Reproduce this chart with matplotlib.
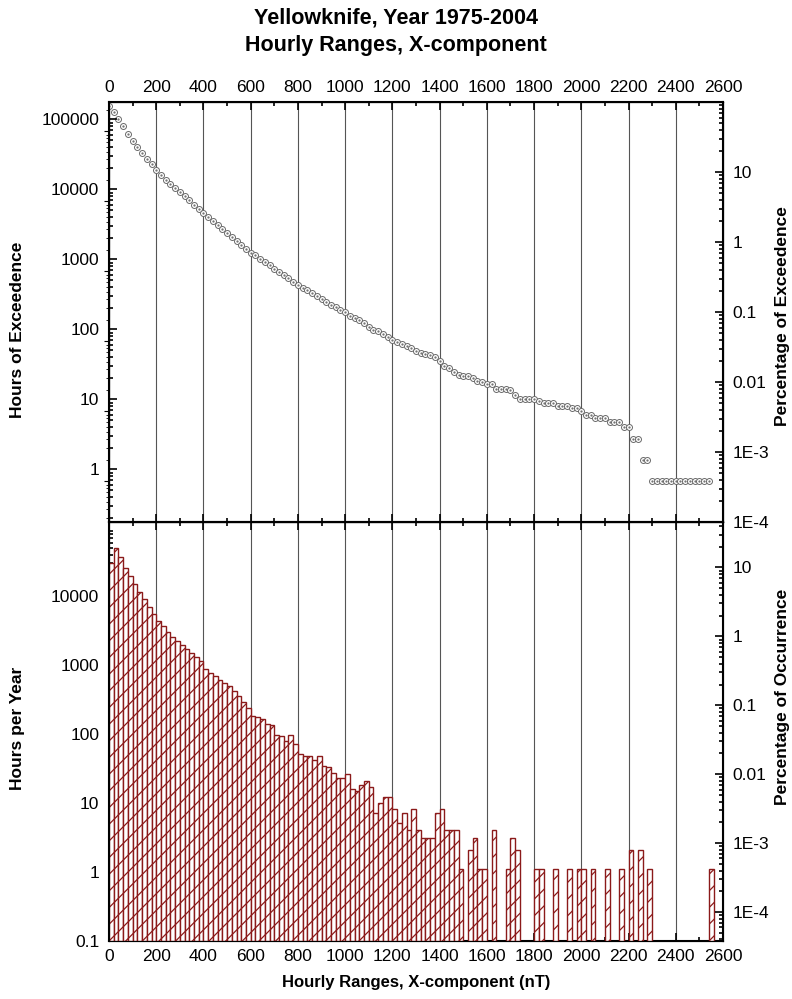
import numpy as np
import matplotlib.pyplot as plt
from matplotlib.ticker import LogLocator, NullFormatter, MultipleLocator

plt.rcParams['font.family'] = ['Liberation Sans', 'DejaVu Sans']
plt.rcParams['hatch.linewidth'] = 0.9

# 30 years of hourly values, used to scale the percentage axes
TOTAL_HOURS = 262980

# lower edge of each 20 nT bin
bin_start = np.arange(0, 2560, 20)

# hours in each 20 nT bin (bottom panel)
hours_in_bin = [
    30000, 50500, 37100, 26100, 19600, 15000, 11700, 9060, 6950, 5580,
    4420, 3670, 3010, 2550, 2230, 1940, 1700, 1490, 1320, 1150,
    896, 785, 688, 615, 552, 494, 428, 363, 298, 239,
    183, 177, 164, 142, 138, 97, 95, 79, 97, 73,
    52, 49, 49, 42, 49, 34, 33, 27, 23, 23,
    26, 16, 15, 18, 21, 17, 7, 10, 12, 12,
    8, 5, 7, 4, 8, 4, 3, 3, 3, 7,
    8, 4, 4, 4, 1, 0, 2, 3, 1, 1,
    0, 4, 0, 0, 1, 3, 2, 0, 0, 0,
    1, 1, 0, 0, 1, 0, 0, 1, 0, 1,
    1, 0, 1, 0, 0, 1, 0, 0, 1, 0,
    2, 0, 2, 0, 1, 0, 0, 0, 0, 0,
    0, 0, 0, 0, 0, 0, 0, 1,
]

# hours with a range at or above each threshold (top panel)
hours_exceeded = [
    230000, 190000, 150000, 118000, 93000, 74000, 60000, 49000, 40500, 33800,
    28300, 24000, 20500, 17800, 15500, 13500, 11800, 10300, 9000, 7800,
    6800, 6000, 5250, 4600, 4050, 3550, 3100, 2720, 2370, 2090,
    1860, 1690, 1520, 1361, 1219, 1081, 984, 889, 810, 713,
    640, 588, 539, 490, 448, 399, 365, 332, 305, 282,
    259, 233, 217, 202, 184, 163, 146, 139, 129, 117,
    105, 97, 92, 85, 81, 73, 69, 66, 63, 60,
    53, 45, 41, 37, 33, 32, 32, 30, 27, 26,
    25, 25, 21, 21, 21, 20, 17, 15, 15, 15,
    15, 14, 13, 13, 13, 12, 12, 12, 11, 11,
    10, 9, 9, 8, 8, 8, 7, 7, 7, 6,
    6, 4, 4, 2, 2, 1, 1, 1, 1, 1,
    1, 1, 1, 1, 1, 1, 1, 1,
]

xticks = list(range(0, 2601, 200))

fig = plt.figure(figsize=(7.92, 9.99), dpi=100)
W, H = 792, 999
ax1 = fig.add_axes([109 / W, 1 - 522 / H, 614 / W, 420 / H])
ax2 = fig.add_axes([109 / W, 1 - 941 / H, 614 / W, 419 / H])

bar_red = '#8b1a1a'

# top panel: exceedence
ax1.plot(bin_start, hours_exceeded, 'o', ms=4.3, mfc='white', mec='#6a6a6a', mew=0.7,
         zorder=3)
ax1.plot(bin_start, hours_exceeded, '.', ms=1.2, color='#6a6a6a', zorder=4)
ax1.set_yscale('log')
ax1.set_ylim(TOTAL_HOURS * 1e-6, TOTAL_HOURS)

# bottom panel: occurrence histogram
counts = np.array(hours_in_bin, dtype=float)
keep = counts > 0
ax2.bar(bin_start[keep], counts[keep], width=20, align='edge', bottom=0.1,
        color='white', edgecolor=bar_red, hatch='//', linewidth=1.0, zorder=3)
ax2.set_yscale('log')
ax2.set_ylim(0.1, 1.2e5)


def log_ticks(ax, ticks, labels, size=12.5):
    ax.set_yticks(ticks, labels)
    ax.yaxis.set_minor_locator(LogLocator(base=10, subs=range(2, 10), numticks=20))
    ax.yaxis.set_minor_formatter(NullFormatter())
    ax.tick_params(axis='y', which='both', direction='in', width=1.2,
                   labelsize=size, pad=7)
    ax.tick_params(axis='y', which='major', length=6)
    ax.tick_params(axis='y', which='minor', length=3)


for ax in (ax1, ax2):
    ax.set_xlim(0, 2600)
    ax.set_xticks(xticks)
    ax.xaxis.set_minor_locator(MultipleLocator(100))
    ax.grid(axis='x', which='major', color='#555555', lw=0.8, zorder=1)
    ax.tick_params(axis='x', which='both', direction='in', top=True, bottom=True,
                   width=1.2, labelsize=12.5)
    ax.tick_params(axis='x', which='major', length=6)
    ax.tick_params(axis='x', which='minor', length=3)
    for s in ax.spines.values():
        s.set_linewidth(1.5)

ax1.tick_params(axis='x', labeltop=True, labelbottom=False, pad=5)
ax2.tick_params(axis='x', labeltop=False, labelbottom=True, pad=6)

# left scale of the top panel sits a little above the data scale
ax1.tick_params(axis='y', which='both', left=False, labelleft=False)
ax1L = ax1.twinx()
ax1L.yaxis.tick_left()
ax1L.set_yscale('log')
shift = 10 ** (12 / 70)
ax1L.set_ylim(TOTAL_HOURS * 1e-6 / shift, TOTAL_HOURS / shift)
log_ticks(ax1L, [1, 10, 100, 1000, 10000, 100000],
          ['1', '10', '100', '1000', '10000', '100000'])

log_ticks(ax2, [0.1, 1, 10, 100, 1000, 10000],
          ['0.1', '1', '10', '100', '1000', '10000'])

pct_ticks = [1e-4, 1e-3, 1e-2, 1e-1, 1, 10]
pct_labels = ['1E-4', '1E-3', '0.01', '0.1', '1', '10']

ax1r = ax1.twinx()
ax1r.set_yscale('log')
ax1r.set_ylim(1e-4, 100)
ax2r = ax2.twinx()
ax2r.set_yscale('log')
lo, hi = ax2.get_ylim()
ax2r.set_ylim(lo / TOTAL_HOURS * 100, hi / TOTAL_HOURS * 100)
for axr in (ax1r, ax2r):
    log_ticks(axr, pct_ticks, pct_labels)

bold = dict(fontsize=12.5, fontweight='bold', rotation=90, ha='center', va='center')
fig.text(18 / W, 1 - 330 / H, 'Hours of Exceedence', **bold)
fig.text(783 / W, 1 - 316 / H, 'Percentage of Exceedence', **bold)
fig.text(18 / W, 1 - 728 / H, 'Hours per Year', **bold)
fig.text(783 / W, 1 - 697 / H, 'Percentage of Occurrence', **bold)

fig.text(0.5, 1 - 18 / H, 'Yellowknife, Year 1975-2004', ha='center', va='center',
         fontsize=15.5, fontweight='bold')
fig.text(0.5, 1 - 45 / H, 'Hourly Ranges, X-component', ha='center', va='center',
         fontsize=15.5, fontweight='bold')
fig.text((109 + 614 / 2) / W, 1 - 983 / H, 'Hourly Ranges, X-component (nT)',
         ha='center', va='center', fontsize=12, fontweight='bold')

fig.savefig('out.png', dpi=100)
